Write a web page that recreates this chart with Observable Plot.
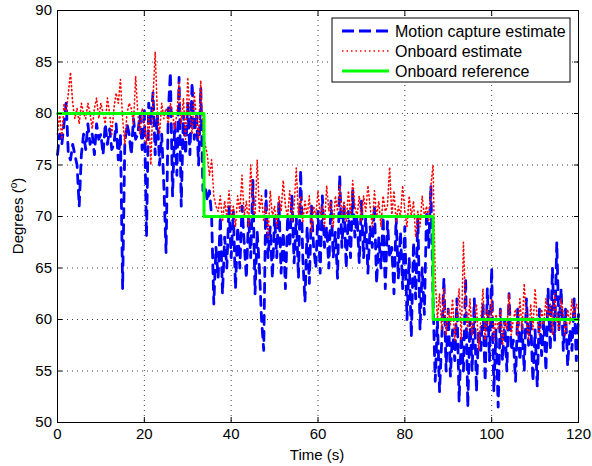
<!DOCTYPE html>
<html><head><meta charset="utf-8">
<script src="https://cdn.jsdelivr.net/npm/d3@7"></script>
<script src="https://cdn.jsdelivr.net/npm/@observablehq/plot@0.6"></script>
<style>body{margin:0;background:#fff} svg{display:block}</style>
</head><body><div id="chart"></div>
<script>
// sample spacing of the two estimate series (seconds)
const sampleStep = 0.5;
// Motion capture estimate (degrees), t = 0, 0.5, ..., 120
const motionCapture = [
  76, 78, 77, 79, 81, 76, 75.5, 77, 76, 75,
  71, 76, 78, 76.5, 79, 77, 78, 76, 79, 77.5,
  78, 76, 79, 77, 78.5, 76.5, 77, 79, 75.5, 78,
  63, 77, 79, 78, 76, 79.5, 77.5, 78, 80, 76.5,
  80.5, 68, 81, 79, 82, 76, 80, 75, 78, 73,
  66.5, 80, 84, 72, 79, 74, 83.5, 71, 80, 76,
  81, 76, 83, 77.5, 80, 75, 82.5, 72.5, 73, 71.5,
  72.5, 70, 61.5, 67, 64, 70, 62.5, 68, 65, 71,
  66, 70.5, 63, 69, 65, 71, 67.5, 64, 70, 66,
  73.5, 62.5, 68.5, 65, 60, 57, 72.5, 66, 69, 64,
  70, 66, 71.5, 64.5, 68.5, 63, 70, 67, 72, 65.5,
  70, 64, 74.5, 66, 61.7, 69, 63.5, 71, 67, 65,
  70.5, 64.5, 72, 67, 69, 65, 71.5, 66, 68.5, 64,
  74, 67, 71, 65, 70.5, 66, 72.5, 68, 70, 65.5,
  71.5, 66, 70, 64.5, 69, 67, 71, 63.5, 68, 65,
  70, 63, 69.5, 66, 67, 62.5, 70, 64, 68.5, 63,
  69, 60, 66, 58.3, 67.5, 62, 70, 59, 65, 60.5,
  70.5, 67, 73, 62, 54, 60, 53, 58, 64, 55,
  61, 54.5, 59, 56, 62, 52, 58.5, 55, 64, 51.5,
  60, 55, 62, 53, 59, 57, 61.5, 54, 63, 56,
  65, 53, 59, 51.5, 61, 56, 60, 55, 62.5, 57,
  58, 54, 61, 56, 59.5, 55, 62, 57.5, 60, 54,
  59, 53.5, 61, 56.5, 60, 55, 63, 57, 65, 58,
  67.5, 59, 63, 57, 61, 55.5, 59, 57, 62, 56,
  60.5
];
// Onboard estimate (degrees), t = 0, 0.5, ..., 120
const onboardEstimate = [
  78, 80, 77.5, 81, 80, 82, 84, 81, 79.5, 80.5,
  79, 81, 80, 79.5, 81, 80, 78.5, 80.5, 81.5, 79.5,
  81, 80, 79, 81.5, 80, 78, 80.5, 82, 81, 83.3,
  79.5, 77, 80, 81, 80.5, 79, 83.6, 80, 78, 80.5,
  79, 77, 80, 75, 81.5, 86, 80, 78, 81, 79.5,
  80.5, 79, 81, 80, 78.5, 80, 83, 79, 81.5, 77.5,
  83.5, 80, 78, 82, 79.5, 77.5, 83.2, 78, 77, 76,
  74, 75.5, 72, 71, 70.5, 72, 69.5, 71.5, 70, 72.5,
  70, 71, 69, 72, 70.5, 74, 70, 71.5, 69, 75,
  71, 70, 75.5, 70.5, 72, 69.5, 71, 68, 72.5, 70,
  71, 69, 72, 70.5, 73.5, 71, 70, 72.5, 69.5, 71,
  74.7, 70, 72, 69.5, 71.5, 70, 72, 68.5, 71, 70,
  72.5, 70, 71, 69, 73, 70.5, 71.5, 69, 72, 70.5,
  73, 70, 71.5, 69.5, 72.5, 70, 73.5, 71, 70, 72,
  69.5, 72, 70.5, 73, 71, 69, 72.5, 70, 71.5, 69,
  72, 70.5, 71, 74.8, 70, 72.5, 69.5, 71, 70, 73,
  70.5, 69, 72, 70, 71.5, 68, 70.5, 69, 72, 70,
  71, 69.5, 73, 75, 64, 60, 62.5, 59, 63, 58.5,
  61, 59.5, 62, 58, 60.5, 63, 58, 67.5, 61, 59,
  62, 58.5, 60, 61.5, 57, 60, 63, 58, 61, 59.5,
  62, 58, 60.5, 59, 61, 57.5, 60, 59, 62.5, 58.5,
  60, 61, 58.5, 62, 59, 63.5, 60, 58, 61.5, 59,
  63, 60, 58.5, 61, 59.5, 62, 60, 61.5, 58.5, 62.5,
  60, 59, 62, 60.5, 58.5, 61, 59.5, 62, 60, 61.5,
  61
];
// Onboard reference (step changes)
const refTimes = [0, 33.75, 86.5, 120];
const refValues = [80, 70, 60, 60];

const xTicks = [0, 20, 40, 60, 80, 100, 120];
const yTicks = [50, 55, 60, 65, 70, 75, 80, 85, 90];
const seriesNames = ["Motion capture estimate", "Onboard estimate", "Onboard reference"];
const seriesColors = ["#0000ff", "#ff0000", "#00ff00"];
const xLabel = "Time (s)";
const yLabelMain = "Degrees (";
const yLabelSup = "o";
const yLabelEnd = ")";

const mcData = motionCapture.map((v, i) => ({t: i * sampleStep, v}));
const obData = onboardEstimate.map((v, i) => ({t: i * sampleStep, v}));
const refData = refTimes.map((t, i) => ({t, v: refValues[i]}));

const font = "'Liberation Sans', Arial, Helvetica, sans-serif";
const gridStyle = {stroke: "#000", strokeOpacity: 0.75, strokeDasharray: "1,4"};
const blueStyle = {w: 2.8, dash: "9,7"};
const redStyle = {w: 1.6, dash: "1,3"};
const greenStyle = {w: 3, dash: null};

const chart = Plot.plot({
  width: 592, height: 466,
  marginLeft: 57, marginRight: 14, marginTop: 10, marginBottom: 44,
  style: {fontFamily: font, fontSize: "15px", background: "#fff", color: "#000", overflow: "visible"},
  x: {domain: [0, 120]},
  y: {domain: [50, 90]},
  marks: [
    Plot.gridX(xTicks, gridStyle),
    Plot.gridY(yTicks, gridStyle),
    Plot.line(mcData, {x: "t", y: "v", stroke: seriesColors[0], strokeWidth: blueStyle.w, strokeDasharray: blueStyle.dash}),
    Plot.line(obData, {x: "t", y: "v", stroke: seriesColors[1], strokeWidth: redStyle.w, strokeDasharray: redStyle.dash}),
    Plot.line(refData, {x: "t", y: "v", stroke: seriesColors[2], strokeWidth: greenStyle.w, curve: "step-after"}),
    Plot.frame({stroke: "#000"}),
    Plot.axisX(xTicks, {anchor: "bottom", tickSize: -5, tickPadding: 11, label: null, fontSize: 15}),
    Plot.axisX(xTicks, {anchor: "top", tickSize: -5, tickFormat: () => "", label: null}),
    Plot.axisY(yTicks, {anchor: "left", tickSize: -5, tickPadding: 10.5, label: null, fontSize: 15}),
    Plot.axisY(yTicks, {anchor: "right", tickSize: -5, tickFormat: () => "", label: null})
  ]
});

const svg = d3.select(chart);
// axis labels
svg.append("text")
  .attr("x", 317).attr("y", 460)
  .attr("text-anchor", "middle")
  .attr("font-family", font).attr("font-size", 15).attr("fill", "#000")
  .text(xLabel);
const yl = svg.append("text")
  .attr("transform", "translate(23,216) rotate(-90)")
  .attr("text-anchor", "middle")
  .attr("font-family", font).attr("font-size", 15).attr("fill", "#000");
yl.append("tspan").text(yLabelMain);
yl.append("tspan").attr("dy", -6).attr("font-size", 10).text(yLabelSup);
yl.append("tspan").attr("dy", 6).text(yLabelEnd);

// legend
const lg = svg.append("g");
lg.append("rect").attr("x", 332).attr("y", 18).attr("width", 238).attr("height", 64)
  .attr("fill", "#fff").attr("stroke", "#000").attr("stroke-width", 1);
const legendStyles = [blueStyle, redStyle, greenStyle];
seriesNames.forEach((name, i) => {
  const cy = 31 + i * 20;
  const ln = lg.append("line").attr("x1", 342).attr("x2", 389).attr("y1", cy).attr("y2", cy)
    .attr("stroke", seriesColors[i]).attr("stroke-width", legendStyles[i].w);
  if (legendStyles[i].dash) ln.attr("stroke-dasharray", i === 0 ? "12,5" : "1.5,3");
  lg.append("text").attr("x", 395).attr("y", cy + 5.5)
    .attr("text-anchor", "start")
    .attr("font-family", font).attr("font-size", 16).attr("fill", "#000")
    .text(name);
});

document.getElementById("chart").appendChild(chart);
</script>
</body></html>
